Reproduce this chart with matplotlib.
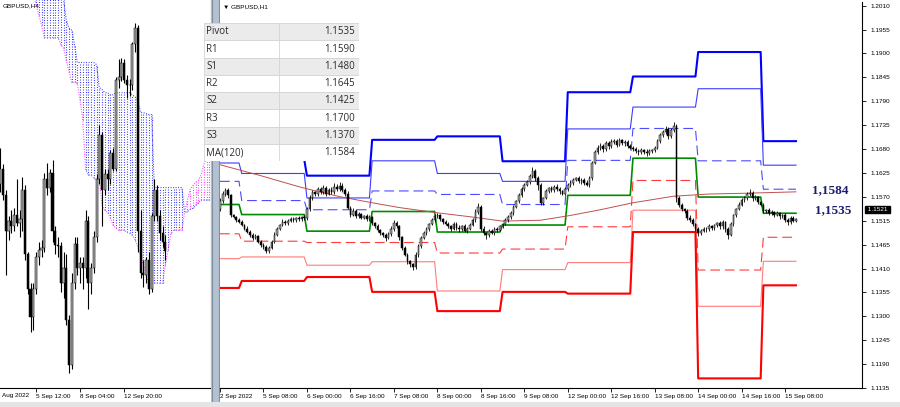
import numpy as np
import matplotlib
matplotlib.use("Agg")
import matplotlib.pyplot as plt
from matplotlib import font_manager
from matplotlib.patches import Rectangle

plt.rcParams['lines.scale_dashes'] = False

names = {f.name for f in font_manager.fontManager.ttflist}
axis_font = 'Liberation Sans Narrow' if 'Liberation Sans Narrow' in names else 'Liberation Sans'
tick_fs = 5.2 if axis_font == 'Liberation Sans Narrow' else 4.6

# ---------------- H1 chart data ----------------
# daily pivot levels, one value per day (2 Sep .. 15 Sep)
day_len = [8, 24, 24, 24, 24, 24, 24, 24, 24, 13]
r3 = [1.1703, 1.1658, 1.1621, 1.1703, 1.1711, 1.1654, 1.1812, 1.1848, 1.1904, 1.1700]
r2 = [1.1650, 1.1626, 1.1570, 1.1655, 1.1626, 1.1608, 1.1728, 1.1778, 1.1820, 1.1645]
r1 = [1.1608, 1.1564, 1.1543, 1.1586, 1.1578, 1.1555, 1.1656, 1.1729, 1.1655, 1.1590]
pv = [1.1555, 1.1532, 1.1494, 1.1539, 1.1492, 1.1508, 1.1576, 1.1661, 1.1572, 1.1535]
s1 = [1.1488, 1.1471, 1.1468, 1.1468, 1.1444, 1.1453, 1.1504, 1.1610, 1.1405, 1.1480]
s2 = [1.1431, 1.1435, 1.1416, 1.1424, 1.1357, 1.1406, 1.1422, 1.1542, 1.1322, 1.1425]
s3 = [1.1364, 1.1380, 1.1389, 1.1355, 1.1311, 1.1355, 1.1351, 1.1492, 1.1157, 1.1370]

# MA(120) read at a few bars
ma_bar = [0, 15, 30, 44, 56, 66, 80, 92, 104, 118, 129, 140, 152, 167, 180, 195, 212]
ma_val = [1.1646, 1.1621, 1.1594, 1.1573, 1.1559, 1.1548, 1.1536, 1.1527, 1.1517,
          1.1519, 1.1530, 1.1543, 1.1559, 1.1574, 1.1579, 1.1581, 1.1584]

h1_open0 = 1.1545
h1_close = [
    1.1562, 1.1580, 1.1588, 1.1576, 1.1530, 1.1526, 1.1520, 1.1516,
    1.1508, 1.1500, 1.1492, 1.1486, 1.1478, 1.1482, 1.1470, 1.1463, 1.1458, 1.1449, 1.1456, 1.1470,
    1.1486, 1.1500, 1.1508, 1.1516, 1.1512, 1.1518, 1.1522, 1.1519, 1.1524, 1.1521, 1.1526, 1.1523,
    1.1545, 1.1570, 1.1583, 1.1578, 1.1590, 1.1584, 1.1593, 1.1580, 1.1588, 1.1584, 1.1596, 1.1590,
    1.1598, 1.1588, 1.1580, 1.1548, 1.1532, 1.1540, 1.1528, 1.1533, 1.1525, 1.1528, 1.1522, 1.1526,
    1.1512, 1.1505, 1.1496, 1.1490, 1.1485, 1.1478, 1.1488, 1.1500, 1.1512, 1.1505, 1.1480, 1.1455,
    1.1440, 1.1425, 1.1418, 1.1412, 1.1440, 1.1460, 1.1478, 1.1490, 1.1500, 1.1510, 1.1520, 1.1528,
    1.1530, 1.1522, 1.1515, 1.1510, 1.1505, 1.1500, 1.1510, 1.1502, 1.1498, 1.1505, 1.1495, 1.1500,
    1.1508, 1.1520, 1.1538, 1.1550, 1.1500, 1.1490, 1.1485, 1.1495, 1.1490, 1.1500, 1.1497, 1.1505,
    1.1510, 1.1520, 1.1526, 1.1535, 1.1550, 1.1562, 1.1576, 1.1590, 1.1600, 1.1606, 1.1620, 1.1632,
    1.1615, 1.1600, 1.1558, 1.1570, 1.1586, 1.1592, 1.1588, 1.1596, 1.1590, 1.1585, 1.1580, 1.1590,
    1.1600, 1.1605, 1.1612, 1.1616, 1.1608, 1.1612, 1.1604, 1.1600, 1.1615, 1.1650, 1.1675, 1.1685,
    1.1690, 1.1682, 1.1695, 1.1688, 1.1698, 1.1700, 1.1692, 1.1702, 1.1695, 1.1698, 1.1690, 1.1685,
    1.1682, 1.1678, 1.1675, 1.1680, 1.1676, 1.1672, 1.1678, 1.1680, 1.1685, 1.1700, 1.1715, 1.1720,
    1.1728, 1.1712, 1.1725, 1.1735, 1.1570, 1.1555, 1.1545, 1.1540, 1.1525, 1.1520, 1.1510, 1.1500,
    1.1490, 1.1495, 1.1500, 1.1498, 1.1505, 1.1502, 1.1508, 1.1512, 1.1505, 1.1515, 1.1500, 1.1486,
    1.1510, 1.1530, 1.1545, 1.1555, 1.1565, 1.1570, 1.1578, 1.1582, 1.1570, 1.1572, 1.1560, 1.1555,
    1.1540, 1.1542, 1.1535, 1.1538, 1.1532, 1.1535, 1.1528, 1.1530, 1.1520, 1.1515, 1.1525, 1.1518,
    1.1521]
# wick extensions in pips
h1_hi_pips = [8, 6, 5, 4, 3, 4, 3, 4,
              4, 3, 5, 4, 3, 5, 4, 3, 4, 5, 3, 4, 6, 4, 3, 5, 4, 3, 4, 5, 3, 4, 3, 4,
              4, 6, 5, 4, 6, 5, 7, 4, 5, 6, 8, 5, 9, 6, 4, 5, 4, 6, 4, 5, 3, 4, 5, 4,
              3, 4, 5, 4, 3, 4, 5, 6, 8, 5, 4, 3, 4, 5, 3, 4, 6, 5, 4, 5, 4, 3, 4, 5,
              5, 4, 3, 5, 4, 3, 6, 4, 5, 4, 6, 3, 4, 5, 6, 8, 4, 5, 3, 4, 5, 4, 3, 4,
              3, 4, 5, 4, 5, 4, 6, 5, 4, 6, 5, 8, 4, 5, 4, 3, 5, 4, 6, 4, 5, 4, 3, 4,
              4, 5, 4, 3, 5, 4, 3, 6, 5, 4, 5, 6, 5, 4, 6, 5, 7, 4, 5, 6, 4, 5, 4, 3,
              3, 4, 5, 4, 3, 5, 4, 3, 4, 5, 4, 5, 6, 5, 4, 8, 4, 5, 4, 3, 4, 5, 4, 3,
              4, 5, 3, 4, 5, 4, 3, 4, 5, 4, 3, 4, 5, 4, 3, 5, 6, 4, 5, 9, 5, 4, 3, 4,
              4, 3, 4, 5, 3, 4, 3, 4, 5, 4, 3, 4, 3]
h1_lo_pips = [4, 3, 5, 6, 4, 3, 5, 4,
              3, 4, 3, 5, 4, 3, 4, 5, 4, 6, 5, 3, 4, 3, 4, 3, 5, 4, 3, 4, 5, 3, 4, 3,
              3, 4, 5, 4, 3, 6, 4, 5, 3, 4, 5, 4, 3, 5, 6, 4, 5, 3, 4, 5, 4, 3, 4, 5,
              5, 4, 3, 5, 4, 6, 3, 4, 5, 4, 6, 5, 4, 6, 5, 8, 4, 5, 4, 3, 4, 5, 3, 4,
              3, 4, 5, 3, 4, 5, 4, 6, 5, 3, 4, 5, 4, 3, 4, 5, 6, 5, 8, 4, 3, 5, 4, 3,
              4, 3, 4, 5, 3, 4, 3, 4, 5, 3, 4, 5, 6, 12, 4, 5, 3, 4, 5, 4, 3, 5, 4, 3,
              3, 4, 5, 4, 3, 5, 4, 3, 4, 5, 3, 4, 5, 6, 4, 5, 3, 4, 5, 3, 4, 5, 6, 4,
              5, 4, 6, 4, 5, 6, 4, 5, 4, 3, 4, 5, 4, 6, 5, 4, 10, 6, 5, 4, 5, 6, 5, 6,
              6, 5, 4, 5, 4, 6, 5, 4, 6, 5, 8, 10, 4, 5, 4, 3, 4, 5, 4, 3, 6, 5, 4, 3,
              5, 4, 3, 4, 5, 4, 6, 5, 6, 8, 5, 4, 3]

h1_ticks = [0, 16, 32, 48, 64, 80, 96, 112, 128, 144, 160, 176, 192, 208]
h1_tick_labels = ['2 Sep 2022', '5 Sep 08:00', '6 Sep 00:00', '6 Sep 16:00', '7 Sep 08:00',
                  '8 Sep 00:00', '8 Sep 16:00', '9 Sep 08:00', '12 Sep 00:00', '12 Sep 16:00',
                  '13 Sep 08:00', '14 Sep 00:00', '14 Sep 16:00', '15 Sep 08:00']
price_labels = ['1.2010', '1.1955', '1.1900', '1.1845', '1.1790', '1.1735', '1.1680', '1.1625',
                '1.1570', '1.1515', '1.1465', '1.1410', '1.1355', '1.1300', '1.1245', '1.1190', '1.1135']

table_names = ['Pivot', 'R1', 'S1', 'R2', 'S2', 'R3', 'S3', 'MA(120)']
table_values = ['1.1535', '1.1590', '1.1480', '1.1645', '1.1425', '1.1700', '1.1370', '1.1584']

# ---------------- H4 chart data ----------------
h4_open = [1.1585, 1.1600, 1.1575, 1.1540, 1.1550, 1.1545, 1.1556, 1.1548, 1.1552, 1.1580,
           1.1518, 1.1485, 1.1458, 1.1485, 1.1515, 1.1522, 1.1524, 1.1590, 1.1582, 1.1596,
           1.1540, 1.1527, 1.1526, 1.1490, 1.1505, 1.1455, 1.1412, 1.1490, 1.1528, 1.1505,
           1.1510, 1.1505, 1.1550, 1.1490, 1.1505, 1.1535, 1.1590, 1.1632, 1.1580, 1.1595,
           1.1590, 1.1615, 1.1600, 1.1685, 1.1688, 1.1702, 1.1685, 1.1680, 1.1680, 1.1720,
           1.1735, 1.1540, 1.1500, 1.1498, 1.1512, 1.1485, 1.1555, 1.1580, 1.1555, 1.1538, 1.1530]
h4_high = [1.1620, 1.1605, 1.1580, 1.1555, 1.1560, 1.1562, 1.1590, 1.1560, 1.1592, 1.1584,
           1.1520, 1.1490, 1.1490, 1.1520, 1.1530, 1.1532, 1.1596, 1.1606, 1.1600, 1.1608,
           1.1545, 1.1535, 1.1530, 1.1520, 1.1518, 1.1460, 1.1500, 1.1535, 1.1535, 1.1515,
           1.1515, 1.1560, 1.1555, 1.1510, 1.1540, 1.1595, 1.1642, 1.1635, 1.1600, 1.1600,
           1.1618, 1.1620, 1.1688, 1.1705, 1.1706, 1.1705, 1.1690, 1.1686, 1.1722, 1.1740,
           1.1738, 1.1560, 1.1512, 1.1515, 1.1520, 1.1558, 1.1590, 1.1584, 1.1560, 1.1545, 1.1536]
h4_low = [1.1578, 1.1570, 1.1498, 1.1532, 1.1538, 1.1540, 1.1545, 1.1535, 1.1540, 1.1512,
          1.1480, 1.1443, 1.1445, 1.1480, 1.1508, 1.1515, 1.1520, 1.1575, 1.1578, 1.1530,
          1.1518, 1.1515, 1.1482, 1.1476, 1.1450, 1.1404, 1.1408, 1.1485, 1.1498, 1.1490,
          1.1485, 1.1495, 1.1465, 1.1480, 1.1500, 1.1530, 1.1585, 1.1545, 1.1575, 1.1580,
          1.1585, 1.1598, 1.1598, 1.1678, 1.1684, 1.1682, 1.1668, 1.1670, 1.1676, 1.1712,
          1.1520, 1.1495, 1.1487, 1.1490, 1.1480, 1.1482, 1.1550, 1.1550, 1.1532, 1.1525, 1.1512]
h4_close = [1.1600, 1.1575, 1.1540, 1.1550, 1.1545, 1.1556, 1.1548, 1.1552, 1.1580, 1.1518,
            1.1485, 1.1458, 1.1485, 1.1515, 1.1522, 1.1524, 1.1590, 1.1582, 1.1596, 1.1540,
            1.1527, 1.1526, 1.1490, 1.1505, 1.1455, 1.1412, 1.1490, 1.1528, 1.1505, 1.1510,
            1.1505, 1.1550, 1.1490, 1.1505, 1.1535, 1.1590, 1.1632, 1.1580, 1.1595, 1.1590,
            1.1615, 1.1600, 1.1685, 1.1688, 1.1702, 1.1685, 1.1680, 1.1680, 1.1720, 1.1735,
            1.1540, 1.1500, 1.1498, 1.1512, 1.1485, 1.1555, 1.1580, 1.1555, 1.1538, 1.1530, 1.1521]

# Ichimoku cloud spans, starting at H4 bar 12
kumo_start = 12
span_a = [1.1790, 1.1788, 1.1785, 1.1783, 1.1780, 1.1778, 1.1775, 1.1772, 1.1770, 1.1768,
          1.1766, 1.1762, 1.1743, 1.1735, 1.1733, 1.1719, 1.1702, 1.1702, 1.1702, 1.1702,
          1.1702, 1.1702, 1.1702, 1.1700, 1.1678, 1.1676, 1.1673, 1.1673, 1.1671, 1.1671,
          1.1673, 1.1673, 1.1673, 1.1673, 1.1673, 1.1673, 1.1671, 1.1669, 1.1666, 1.1654,
          1.1654, 1.1653, 1.1652, 1.1652, 1.1582, 1.1582, 1.1582, 1.1582, 1.1582, 1.1582,
          1.1582, 1.1582, 1.1582, 1.1582, 1.1582, 1.1558, 1.1559, 1.1561, 1.1562, 1.1565,
          1.1567, 1.1570, 1.1570, 1.1570, 1.1570, 1.1570]
span_b = [1.1770, 1.1757, 1.1748, 1.1738, 1.1726, 1.1726, 1.1726, 1.1726, 1.1726, 1.1726,
          1.1719, 1.1716, 1.1704, 1.1693, 1.1683, 1.1683, 1.1682, 1.1666, 1.1647, 1.1599,
          1.1594, 1.1594, 1.1591, 1.1589, 1.1589, 1.1565, 1.1560, 1.1558, 1.1553, 1.1546,
          1.1543, 1.1541, 1.1541, 1.1541, 1.1539, 1.1538, 1.1536, 1.1532, 1.1525, 1.1517,
          1.1508, 1.1498, 1.1490, 1.1490, 1.1490, 1.1490, 1.1490, 1.1490, 1.1508, 1.1522,
          1.1538, 1.1541, 1.1541, 1.1541, 1.1541, 1.1558, 1.1570, 1.1580, 1.1584, 1.1587,
          1.1589, 1.1594, 1.1604, 1.1611, 1.1615, 1.1615]

h4_ticks = [13, 29, 45]
h4_tick_labels = ['5 Sep 12:00', '8 Sep 04:00', '12 Sep 20:00']

# ---------------- figure ----------------
W, H = 900, 407
fig = plt.figure(figsize=(9, 4.07), dpi=100)
fig.patch.set_facecolor('white')


def rect(x0, y0, x1, y1):
    return [x0 / W, 1 - y1 / H, (x1 - x0) / W, (y1 - y0) / H]


def candles(ax, o, h, l, c, width, lw):
    idx = np.arange(len(c))
    o = np.asarray(o); c = np.asarray(c)
    ax.vlines(idx, l, h, color='black', lw=lw, zorder=3)
    up = c >= o
    body = np.where(np.abs(c - o) < 0.00004, 0.00004, c - o)
    ax.bar(idx[up], body[up], bottom=o[up], width=width, color='#a8a8a8',
           edgecolor='black', lw=0.35, zorder=4)
    ax.bar(idx[~up], body[~up], bottom=o[~up], width=width, color='black',
           edgecolor='black', lw=0.35, zorder=4)


# ---- left H4 panel ----
axL = fig.add_axes(rect(0, 0, 211, 388))
axL.set_xlim(-0.09, 76.6)
axL.set_ylim(1.13896, 1.17620)
ja = np.arange(kumo_start, kumo_start + len(span_a))
sa = np.array(span_a); sb = np.array(span_b)
bull = sa >= sb
axL.vlines(ja[bull], np.minimum(sa, sb)[bull], np.maximum(sa, sb)[bull], color='#3b3bff',
           lw=0.8, linestyles=[(0, (0.7, 1.1))], zorder=1)
axL.vlines(ja[~bull], np.minimum(sa, sb)[~bull], np.maximum(sa, sb)[~bull], color='#ff40ff',
           lw=0.8, linestyles=[(0, (0.7, 1.1))], zorder=1)
axL.plot(ja, sa, color='#3b3bff', lw=0.8, ls=(0, (0.7, 1.1)), zorder=1)
axL.plot(ja, sb, color='#ff40ff', lw=0.8, ls=(0, (0.7, 1.1)), zorder=1)
candles(axL, h4_open, h4_high, h4_low, h4_close, 0.75, 0.8)
axL.set_xticks(h4_ticks)
axL.set_xticklabels(h4_tick_labels, ha='left', fontsize=tick_fs, family=axis_font)
axL.tick_params(axis='x', length=3, width=0.6, pad=1.5)
axL.set_yticks([])
for s in ['top', 'left']:
    axL.spines[s].set_visible(False)
axL.spines['right'].set_linewidth(0.8)
axL.spines['bottom'].set_linewidth(0.8)
fig.text(2 / W, 1 - 396 / H, 'Aug 2022', fontsize=tick_fs, family=axis_font, va='center')
fig.text(3 / W, 1 - 6 / H, 'GBPUSD,H4', fontsize=tick_fs, family=axis_font, va='center')

# ---- separator ----
sep = fig.add_axes(rect(211, 0, 220, 407))
sep.set_axis_off()
sep.add_patch(Rectangle((0, 0), 1, 1, color='#b3c1d1', transform=sep.transAxes))
sep.axvline(0.15, color='#7d8fa3', lw=0.8)
sep.axvline(0.9, color='#7d8fa3', lw=0.8)

# ---- right H1 panel ----
axR = fig.add_axes(rect(220, 2, 862, 388))
axR.set_xlim(0.28, 236.3)
axR.set_ylim(1.11366, 1.20185)

bars = np.arange(len(h1_close))
level_style = [
    (r3, '#0000ff', 1.5, '-'),
    (r2, '#3c3cff', 0.8, '-'),
    (r1, '#4b4bff', 0.8, (0, (7, 3.5))),
    (pv, '#008c00', 1.2, '-'),
    (s1, '#ff3c3c', 0.8, (0, (7, 3.5))),
    (s2, '#ff7b7b', 0.8, '-'),
    (s3, '#ff0000', 1.5, '-'),
]
for vals, col, lw, ls in level_style:
    axR.plot(bars, np.repeat(vals, day_len), color=col, lw=lw, ls=ls, zorder=2)
axR.plot(ma_bar, ma_val, color='#c0504d', lw=0.7, zorder=2)

h1_c = np.array(h1_close)
h1_o = np.concatenate([[h1_open0], h1_c[:-1]])
h1_h = np.maximum(h1_o, h1_c) + np.array(h1_hi_pips) * 0.0001
h1_l = np.minimum(h1_o, h1_c) - np.array(h1_lo_pips) * 0.0001
candles(axR, h1_o, h1_h, h1_l, h1_c, 0.6, 0.6)

axR.set_xticks(h1_ticks)
axR.set_xticklabels(h1_tick_labels, ha='left', fontsize=tick_fs, family=axis_font)
axR.tick_params(axis='x', length=3, width=0.6, pad=1.5)
ytick_pos = 1.2010 - np.arange(len(price_labels)) * (0.0875 / 16)
axR.yaxis.tick_right()
axR.set_yticks(ytick_pos)
axR.set_yticklabels(price_labels, fontsize=tick_fs, family=axis_font)
axR.tick_params(axis='y', length=3, width=0.6, pad=3)
axR.spines['top'].set_visible(False)
axR.spines['left'].set_visible(False)
axR.spines['right'].set_linewidth(0.8)
axR.spines['bottom'].set_linewidth(0.8)
axR.text(1.006, h1_close[-1] + 0.0022, ' 1.1521 ', transform=axR.get_yaxis_transform(),
         fontsize=tick_fs, family=axis_font, color='white', va='center', ha='left',
         bbox=dict(boxstyle='square,pad=0.15', fc='black', ec='black'), zorder=10, clip_on=False)
fig.text(223 / W, 1 - 7 / H, '\u25bc GBPUSD,H1', fontsize=tick_fs, family=axis_font, va='center')

fig.text(812 / W, 1 - 190 / H, '1,1584', fontsize=9.5, family='Liberation Serif',
         weight='bold', color='#1c1c6c', va='center')
fig.text(815 / W, 1 - 210 / H, '1,1535', fontsize=9.5, family='Liberation Serif',
         weight='bold', color='#1c1c6c', va='center')

# ---- pivot table ----
axT = fig.add_axes(rect(204, 23, 359, 161))
axT.set_xlim(0, 155)
axT.set_ylim(len(table_names), 0)
axT.set_axis_off()
for i, (n, v) in enumerate(zip(table_names, table_values)):
    fc = '#ebebeb' if i % 2 == 0 else 'white'
    axT.add_patch(Rectangle((0, i), 155, 1, fc=fc, ec='#d4d4d4', lw=0.6))
    axT.text(2, i + 0.52, n, fontsize=7, family='Open Sans', color='#2b2b2b', va='center')
    axT.text(151, i + 0.52, v, fontsize=7, family='Open Sans', color='#2b2b2b',
             va='center', ha='right')
axT.plot([75, 75], [0, len(table_names)], color='#d4d4d4', lw=0.6)

# bottom strip
strip = fig.add_axes(rect(0, 402, 900, 407))
strip.set_axis_off()
strip.add_patch(Rectangle((0, 0), 1, 1, color='#e4e4e4', transform=strip.transAxes))

fig.savefig('out.png', dpi=100)
